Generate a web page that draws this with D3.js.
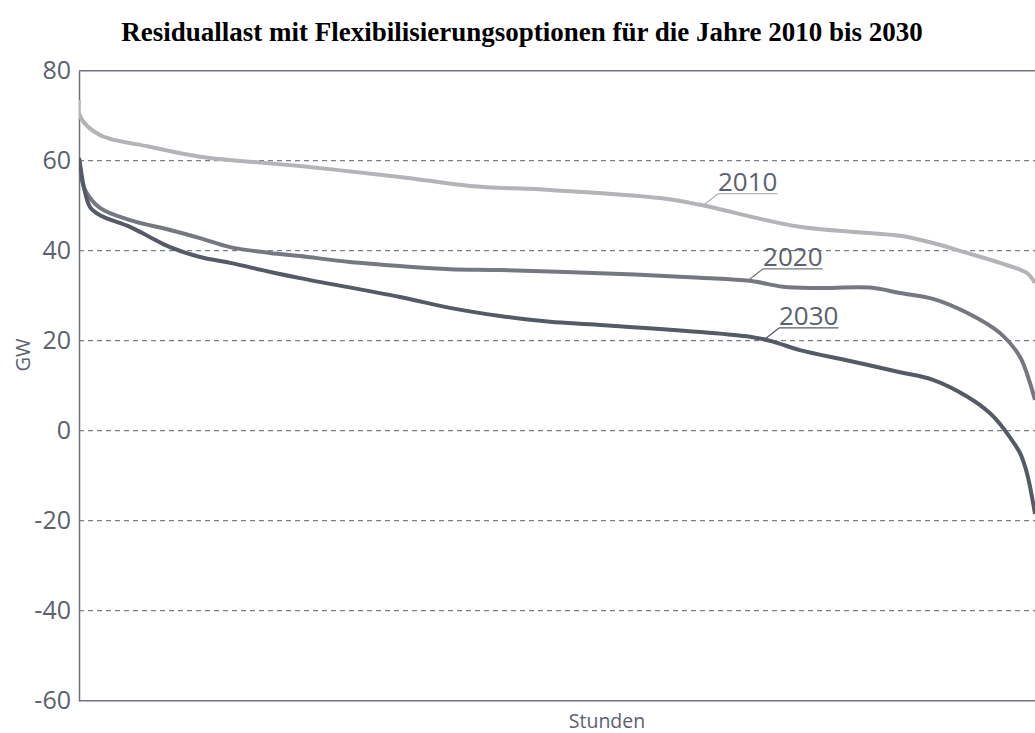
<!DOCTYPE html>
<html>
<head>
<meta charset="utf-8">
<script src="https://cdn.jsdelivr.net/npm/d3@7"></script>
<style>
  html, body { margin: 0; padding: 0; background: #ffffff; }
  svg { display: block; }
</style>
</head>
<body>
<svg id="chart" width="1035" height="733"></svg>
<script>
// Residual load duration curves (GW) sorted over the hours of the year
const title = "Residuallast mit Flexibilisierungsoptionen für die Jahre 2010 bis 2030";
const yTicks = [-60, -40, -20, 0, 20, 40, 60, 80];
const xLabel = "Stunden";
const yLabel = "GW";

const hours2010 = [0, 9, 192, 651, 1109, 2025, 2941, 3583, 4316, 5324, 5690, 6606, 7523, 7825, 8137, 8439, 8687, 8760];
const gw2010    = [73.5, 69.9, 65.7, 63.1, 60.9, 58.8, 56.4, 54.4, 53.5, 51.7, 50.2, 45.3, 43.3, 41.7, 39.5, 37.3, 35.0, 32.8];

const hours2020 = [0, 27, 55, 192, 467, 834, 1109, 1384, 1750, 2025, 2483, 2941, 3399, 3858, 4774, 5690, 6148, 6450, 6750, 7248, 7523, 7825, 8137, 8439, 8623, 8714, 8760];
const gw2020    = [60.6, 55.7, 53.5, 49.5, 46.8, 44.6, 42.8, 40.8, 39.5, 38.8, 37.5, 36.6, 35.9, 35.7, 35.0, 34.0, 33.3, 32.0, 31.7, 31.8, 30.6, 29.3, 26.2, 21.7, 16.4, 10.6, 6.8];

const hours2030 = [0, 18, 37, 101, 192, 467, 651, 834, 1109, 1384, 1750, 2025, 2941, 3399, 3858, 4316, 4774, 6148, 6359, 6606, 7065, 7523, 7825, 8137, 8348, 8439, 8531, 8623, 8687, 8760];
const gw2030    = [60.6, 57.9, 55.0, 49.7, 47.9, 45.3, 43.0, 40.8, 38.6, 37.3, 35.3, 33.9, 29.7, 27.3, 25.5, 24.2, 23.5, 20.9, 19.8, 17.9, 15.5, 13.0, 11.3, 7.6, 3.9, 1.5, -1.5, -5.0, -9.5, -18.5];

const seriesNames  = ["2010", "2020", "2030"];
const seriesColors = ["#b3b3b8", "#767881", "#545a66"];
// hour on the curve where each year's label leader starts
const labelHours   = [5727, 6140, 6286];

const series = [
  { name: seriesNames[0], color: seriesColors[0], hours: hours2010, gw: gw2010, labelHour: labelHours[0] },
  { name: seriesNames[1], color: seriesColors[1], hours: hours2020, gw: gw2020, labelHour: labelHours[1] },
  { name: seriesNames[2], color: seriesColors[2], hours: hours2030, gw: gw2030, labelHour: labelHours[2] }
];

const svg = d3.select("#chart");
const W = 1035, H = 733;
const margin = { left: 79, right: 0, top: 70.7, bottom: 32.3 };

const x = d3.scaleLinear().domain([0, 8760]).range([margin.left, W - margin.right]);
const y = d3.scaleLinear().domain([-60, 80]).range([H - margin.bottom, margin.top]);

const textColor = "#5b616d";
const axisColor = "#6d727c";
const fontFamily = "'Open Sans', 'Noto Sans', sans-serif";

// Title
svg.append("text")
  .attr("x", 522)
  .attr("y", 41)
  .attr("text-anchor", "middle")
  .attr("font-family", "'Liberation Serif', 'Times New Roman', serif")
  .attr("font-weight", "bold")
  .attr("font-size", 27)
  .attr("fill", "#000")
  .text(title);

// Dashed horizontal grid lines
svg.append("g")
  .selectAll("line")
  .data(yTicks.filter(t => t !== 80 && t !== -60))
  .join("line")
  .attr("x1", x(0))
  .attr("x2", x(8760))
  .attr("y1", d => y(d))
  .attr("y2", d => y(d))
  .attr("stroke", "#7a7f88")
  .attr("stroke-width", 1.3)
  .attr("stroke-dasharray", "5,4");

// Frame lines: top and bottom
[80, -60].forEach(v => {
  svg.append("line")
    .attr("x1", x(0)).attr("x2", x(8760))
    .attr("y1", y(v)).attr("y2", y(v))
    .attr("stroke", axisColor).attr("stroke-width", 1.5);
});

// Y axis (plain hyphen for negative numbers)
const yAxis = d3.axisLeft(y).tickValues(yTicks).tickSize(0).tickPadding(8)
  .tickFormat(d => String(d));
const gy = svg.append("g")
  .attr("transform", `translate(${margin.left},0)`)
  .call(yAxis);
gy.select(".domain").attr("stroke", axisColor).attr("stroke-width", 1.5);
gy.selectAll("text")
  .attr("font-family", fontFamily)
  .attr("font-size", 25)
  .attr("fill", textColor);

// Axis titles
svg.append("text")
  .attr("transform", `translate(30,355) rotate(-90)`)
  .attr("text-anchor", "middle")
  .attr("font-family", fontFamily)
  .attr("font-size", 20)
  .attr("fill", textColor)
  .text(yLabel);

svg.append("text")
  .attr("x", 607)
  .attr("y", 728)
  .attr("text-anchor", "middle")
  .attr("font-family", fontFamily)
  .attr("font-size", 19.5)
  .attr("fill", textColor)
  .text(xLabel);

// Curves
const line = d3.line()
  .x(d => x(d[0]))
  .y(d => y(d[1]))
  .curve(d3.curveCatmullRom.alpha(0.5));

svg.append("clipPath").attr("id", "plot-clip")
  .append("rect")
  .attr("x", x(0)).attr("y", y(80) - 10)
  .attr("width", x(8760) - x(0) + 5).attr("height", y(-60) - y(80) + 20);

const gLines = svg.append("g").attr("clip-path", "url(#plot-clip)");
series.forEach(s => {
  const pts = s.hours.map((h, i) => [h, s.gw[i]]);
  gLines.append("path")
    .datum(pts)
    .attr("d", line)
    .attr("fill", "none")
    .attr("stroke", s.color)
    .attr("stroke-width", 4)
    .attr("stroke-linejoin", "round");
});

// Value of a curve at a given hour (linear between read points)
function valueAt(s, h) {
  const i = d3.bisectRight(s.hours, h);
  const i0 = Math.max(0, i - 1), i1 = Math.min(s.hours.length - 1, i);
  if (i0 === i1) return s.gw[i0];
  const t = (h - s.hours[i0]) / (s.hours[i1] - s.hours[i0]);
  return s.gw[i0] + t * (s.gw[i1] - s.gw[i0]);
}

// Year labels with leader line and underline
series.forEach(s => {
  const px = x(s.labelHour);
  const py = y(valueAt(s, s.labelHour)) - 1;
  const tx = px + 14, ty = py - 11;
  const g = svg.append("g");
  const t = g.append("text")
    .attr("x", tx)
    .attr("y", ty - 3)
    .attr("font-family", fontFamily)
    .attr("font-size", 26)
    .attr("fill", textColor)
    .text(s.name);
  const w = t.node().getComputedTextLength();
  g.append("line")
    .attr("x1", px).attr("y1", py)
    .attr("x2", tx).attr("y2", ty)
    .attr("stroke", s.color).attr("stroke-width", 1.3);
  g.append("line")
    .attr("x1", tx).attr("y1", ty)
    .attr("x2", tx + w).attr("y2", ty)
    .attr("stroke", s.color).attr("stroke-width", 1.3);
});
</script>
</body>
</html>
